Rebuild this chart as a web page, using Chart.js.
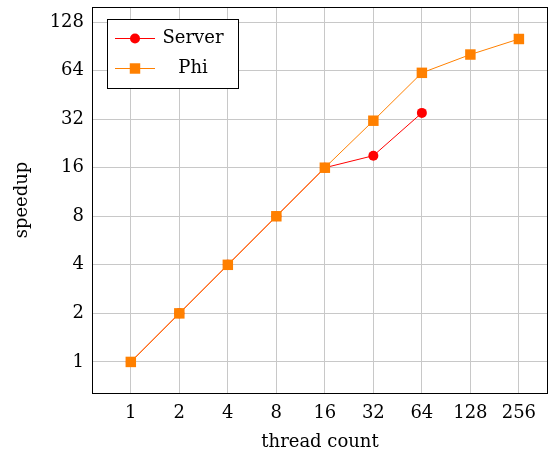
<!DOCTYPE html>
<html><head><meta charset="utf-8">
<script src="https://cdn.jsdelivr.net/npm/chart.js@4"></script>
<style>html,body{margin:0;padding:0;background:#fff}#wrap{width:551px;height:453px}</style>
</head><body><div id="wrap"><canvas id="c" width="551" height="453"></canvas></div>
<script>
const threads = [1, 2, 4, 8, 16, 32, 64, 128, 256];
const speedupTicks = [1, 2, 4, 8, 16, 32, 64, 128];
const serverThreads = [1, 2, 4, 8, 16, 32, 64];
const serverSpeedup = [1, 2, 4, 8, 16, 19, 35];
const phiThreads = [1, 2, 4, 8, 16, 32, 64, 128, 256];
const phiSpeedup = [1, 2, 4, 8, 16, 31.3, 62, 80.5, 100.5];
const seriesNames = ['Server', 'Phi'];
const xTitle = 'thread count';
const yTitle = 'speedup';

const FONT = 'DejaVu Serif';
const RED = '#ff0000', ORANGE = '#ff8000';

const boxPlugin = {
  id: 'boxLegend',
  afterDraw(chart) {
    const ctx = chart.ctx, a = chart.chartArea;
    ctx.save();
    ctx.strokeStyle = '#000'; ctx.lineWidth = 1;
    ctx.strokeRect(Math.round(a.left) + 0.5, Math.round(a.top) + 0.5, Math.round(a.right - a.left) - 1, Math.round(a.bottom - a.top));
    const lx = a.left + 15, ly = a.top + 12, lw = 131, lh = 69;
    ctx.fillStyle = '#fff';
    ctx.fillRect(lx, ly, lw, lh);
    ctx.strokeRect(Math.round(lx) + 0.5, Math.round(ly) + 0.5, lw, lh);
    const rows = [
      {name: seriesNames[0], color: RED, style: 'circle', r: 5},
      {name: seriesNames[1], color: ORANGE, style: 'rect', r: 7.4}
    ];
    rows.forEach((row, i) => {
      const cy = ly + 19.5 + i * 30;
      ctx.strokeStyle = row.color; ctx.lineWidth = 1;
      ctx.beginPath(); ctx.moveTo(lx + 8, cy); ctx.lineTo(lx + 48, cy); ctx.stroke();
      ctx.fillStyle = row.color;
      ctx.beginPath();
      if (row.style === 'circle') { ctx.arc(lx + 28, cy, row.r, 0, Math.PI * 2); }
      else { const s = row.r * Math.SQRT1_2; ctx.rect(lx + 28 - s, cy - s, 2 * s, 2 * s); }
      ctx.fill();
      ctx.fillStyle = '#000';
      ctx.font = '18px "' + FONT + '"';
      ctx.textAlign = 'center'; ctx.textBaseline = 'middle';
      ctx.fillText(row.name, lx + 86, cy);
    });
    ctx.restore();
  }
};

const xs = threads.map(v => ({value: v}));
const ys = speedupTicks.map(v => ({value: v}));

new Chart(document.getElementById('c'), {
  type: 'line',
  data: {
    datasets: [
      {label: seriesNames[0], order: 1, data: serverThreads.map((t, i) => ({x: t, y: serverSpeedup[i]})),
       borderColor: RED, backgroundColor: RED, borderWidth: 1, pointStyle: 'circle', pointRadius: 5,
       pointBorderWidth: 0, pointHoverRadius: 5, tension: 0},
      {label: seriesNames[1], order: 0, data: phiThreads.map((t, i) => ({x: t, y: phiSpeedup[i]})),
       borderColor: ORANGE, backgroundColor: ORANGE, borderWidth: 1, pointStyle: 'rect', pointRadius: 7.4,
       pointBorderWidth: 0, pointHoverRadius: 7.4, tension: 0}
    ]
  },
  options: {
    responsive: false, animation: false,
    layout: {autoPadding: false, padding: {top: 7, right: 3, left: 12, bottom: 0}},
    plugins: {legend: {display: false}, tooltip: {enabled: false}},
    scales: {
      x: {
        type: 'logarithmic', bounds: 'data', min: Math.pow(2, -0.8), max: Math.pow(2, 8.6),
        afterBuildTicks: s => { s.ticks = xs.map(t => ({value: t.value})); },
        afterFit: s => { s.height = 60; s.paddingLeft = 0; s.paddingRight = 0; },
        grid: {color: '#c8c8c8', lineWidth: 1, drawTicks: false},
        border: {display: false},
        ticks: {autoSkip: false, maxRotation: 0, padding: 10, color: '#000', font: {family: FONT, size: 18},
                callback: v => String(v)},
        title: {display: true, text: xTitle, color: '#000', font: {family: FONT, size: 18}, padding: {top: 6, bottom: 0}}
      },
      y: {
        type: 'logarithmic', bounds: 'data', min: Math.pow(2, -0.64), max: Math.pow(2, 7.31),
        afterBuildTicks: s => { s.ticks = ys.map(t => ({value: t.value})); },
        afterFit: s => { s.width = 80; s.paddingTop = 0; s.paddingBottom = 0; },
        grid: {color: '#c8c8c8', lineWidth: 1, drawTicks: false},
        border: {display: false},
        ticks: {autoSkip: false, padding: 8, color: '#000', font: {family: FONT, size: 18},
                callback: v => String(v)},
        title: {display: true, text: yTitle, color: '#000', font: {family: FONT, size: 18}, padding: {top: 0, bottom: 12}}
      }
    }
  },
  plugins: [boxPlugin]
});
</script>
</body></html>
